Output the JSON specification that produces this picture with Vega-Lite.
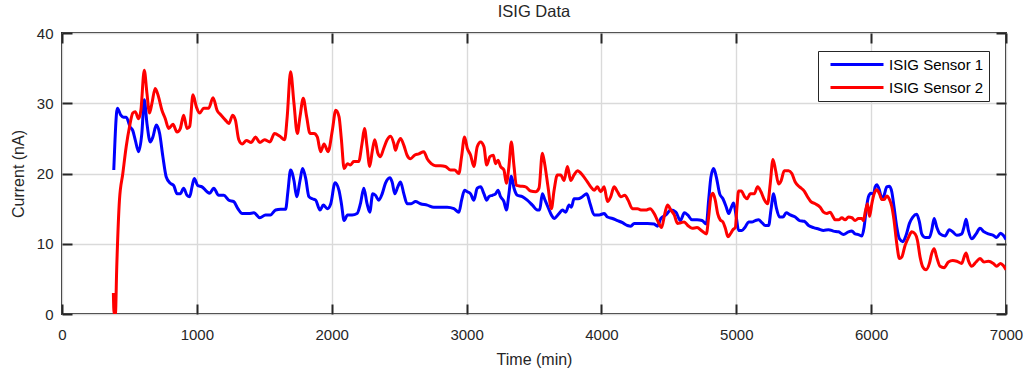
{
"$schema":"https://vega.github.io/schema/vega-lite/v6.json",
"width":944,"height":281,
"autosize":{"type":"none"},
"padding":{"left":62,"top":33,"right":21,"bottom":55},
"config":{"font":"Liberation Sans","view":{"stroke":"#262626","strokeWidth":2},
"axis":{"labelFont":"Liberation Sans","titleFont":"Liberation Sans","labelColor":"#262626","titleColor":"#262626","labelFontSize":15,"titleFontSize":16,"titleFontWeight":"normal","tickColor":"#262626","tickWidth":2,"tickSize":-10,"domain":false,"gridColor":"#dadada","gridWidth":1.4}},
"title":{"text":"ISIG Data","fontSize":16.5,"fontWeight":"normal","font":"Liberation Sans","color":"#262626","offset":6},
"data":{"values":[
{"t":384,"v":20.5,"s":"ISIG Sensor 1"},{"t":411,"v":29.3,"s":"ISIG Sensor 1"},{"t":436,"v":28.3,"s":"ISIG Sensor 1"},{"t":456,"v":28.0,"s":"ISIG Sensor 1"},{"t":476,"v":28.0,"s":"ISIG Sensor 1"},{"t":506,"v":26.6,"s":"ISIG Sensor 1"},{"t":525,"v":26.1,"s":"ISIG Sensor 1"},{"t":543,"v":24.8,"s":"ISIG Sensor 1"},{"t":568,"v":23.1,"s":"ISIG Sensor 1"},{"t":592,"v":25.7,"s":"ISIG Sensor 1"},{"t":610,"v":30.5,"s":"ISIG Sensor 1"},{"t":630,"v":27.1,"s":"ISIG Sensor 1"},{"t":654,"v":24.5,"s":"ISIG Sensor 1"},{"t":674,"v":25.2,"s":"ISIG Sensor 1"},{"t":699,"v":26.9,"s":"ISIG Sensor 1"},{"t":724,"v":25.7,"s":"ISIG Sensor 1"},{"t":748,"v":22.4,"s":"ISIG Sensor 1"},{"t":773,"v":19.5,"s":"ISIG Sensor 1"},{"t":803,"v":18.6,"s":"ISIG Sensor 1"},{"t":828,"v":18.3,"s":"ISIG Sensor 1"},{"t":853,"v":17.1,"s":"ISIG Sensor 1"},{"t":877,"v":17.1,"s":"ISIG Sensor 1"},{"t":902,"v":17.9,"s":"ISIG Sensor 1"},{"t":927,"v":16.9,"s":"ISIG Sensor 1"},{"t":947,"v":16.7,"s":"ISIG Sensor 1"},{"t":964,"v":18.1,"s":"ISIG Sensor 1"},{"t":981,"v":19.3,"s":"ISIG Sensor 1"},{"t":1006,"v":18.3,"s":"ISIG Sensor 1"},{"t":1038,"v":18.1,"s":"ISIG Sensor 1"},{"t":1076,"v":17.4,"s":"ISIG Sensor 1"},{"t":1095,"v":17.2,"s":"ISIG Sensor 1"},{"t":1125,"v":17.9,"s":"ISIG Sensor 1"},{"t":1162,"v":16.9,"s":"ISIG Sensor 1"},{"t":1200,"v":16.9,"s":"ISIG Sensor 1"},{"t":1237,"v":16.2,"s":"ISIG Sensor 1"},{"t":1274,"v":16.0,"s":"ISIG Sensor 1"},{"t":1304,"v":15.0,"s":"ISIG Sensor 1"},{"t":1336,"v":14.3,"s":"ISIG Sensor 1"},{"t":1385,"v":14.3,"s":"ISIG Sensor 1"},{"t":1423,"v":14.4,"s":"ISIG Sensor 1"},{"t":1467,"v":13.7,"s":"ISIG Sensor 1"},{"t":1509,"v":14.1,"s":"ISIG Sensor 1"},{"t":1546,"v":14.1,"s":"ISIG Sensor 1"},{"t":1584,"v":14.8,"s":"ISIG Sensor 1"},{"t":1621,"v":14.9,"s":"ISIG Sensor 1"},{"t":1658,"v":14.9,"s":"ISIG Sensor 1"},{"t":1675,"v":17.4,"s":"ISIG Sensor 1"},{"t":1695,"v":20.5,"s":"ISIG Sensor 1"},{"t":1720,"v":19.0,"s":"ISIG Sensor 1"},{"t":1740,"v":16.7,"s":"ISIG Sensor 1"},{"t":1765,"v":19.0,"s":"ISIG Sensor 1"},{"t":1784,"v":20.7,"s":"ISIG Sensor 1"},{"t":1807,"v":19.3,"s":"ISIG Sensor 1"},{"t":1831,"v":16.7,"s":"ISIG Sensor 1"},{"t":1856,"v":16.4,"s":"ISIG Sensor 1"},{"t":1881,"v":16.2,"s":"ISIG Sensor 1"},{"t":1913,"v":14.8,"s":"ISIG Sensor 1"},{"t":1938,"v":15.5,"s":"ISIG Sensor 1"},{"t":1968,"v":15.0,"s":"ISIG Sensor 1"},{"t":1993,"v":15.7,"s":"ISIG Sensor 1"},{"t":2025,"v":18.7,"s":"ISIG Sensor 1"},{"t":2054,"v":17.6,"s":"ISIG Sensor 1"},{"t":2072,"v":15.7,"s":"ISIG Sensor 1"},{"t":2092,"v":13.3,"s":"ISIG Sensor 1"},{"t":2117,"v":14.1,"s":"ISIG Sensor 1"},{"t":2151,"v":14.1,"s":"ISIG Sensor 1"},{"t":2188,"v":14.3,"s":"ISIG Sensor 1"},{"t":2213,"v":15.7,"s":"ISIG Sensor 1"},{"t":2238,"v":17.9,"s":"ISIG Sensor 1"},{"t":2262,"v":15.7,"s":"ISIG Sensor 1"},{"t":2282,"v":14.5,"s":"ISIG Sensor 1"},{"t":2304,"v":17.1,"s":"ISIG Sensor 1"},{"t":2324,"v":16.9,"s":"ISIG Sensor 1"},{"t":2349,"v":16.2,"s":"ISIG Sensor 1"},{"t":2374,"v":17.1,"s":"ISIG Sensor 1"},{"t":2398,"v":18.6,"s":"ISIG Sensor 1"},{"t":2431,"v":19.4,"s":"ISIG Sensor 1"},{"t":2448,"v":18.8,"s":"ISIG Sensor 1"},{"t":2468,"v":17.1,"s":"ISIG Sensor 1"},{"t":2490,"v":18.1,"s":"ISIG Sensor 1"},{"t":2510,"v":18.8,"s":"ISIG Sensor 1"},{"t":2535,"v":17.1,"s":"ISIG Sensor 1"},{"t":2559,"v":15.7,"s":"ISIG Sensor 1"},{"t":2589,"v":15.7,"s":"ISIG Sensor 1"},{"t":2621,"v":16.0,"s":"ISIG Sensor 1"},{"t":2658,"v":15.7,"s":"ISIG Sensor 1"},{"t":2708,"v":15.5,"s":"ISIG Sensor 1"},{"t":2757,"v":15.2,"s":"ISIG Sensor 1"},{"t":2807,"v":15.2,"s":"ISIG Sensor 1"},{"t":2856,"v":15.2,"s":"ISIG Sensor 1"},{"t":2906,"v":15.0,"s":"ISIG Sensor 1"},{"t":2943,"v":14.5,"s":"ISIG Sensor 1"},{"t":2963,"v":16.2,"s":"ISIG Sensor 1"},{"t":2985,"v":17.6,"s":"ISIG Sensor 1"},{"t":3005,"v":17.4,"s":"ISIG Sensor 1"},{"t":3030,"v":17.1,"s":"ISIG Sensor 1"},{"t":3054,"v":16.2,"s":"ISIG Sensor 1"},{"t":3079,"v":17.9,"s":"ISIG Sensor 1"},{"t":3104,"v":18.1,"s":"ISIG Sensor 1"},{"t":3129,"v":17.1,"s":"ISIG Sensor 1"},{"t":3149,"v":16.2,"s":"ISIG Sensor 1"},{"t":3166,"v":16.7,"s":"ISIG Sensor 1"},{"t":3191,"v":16.9,"s":"ISIG Sensor 1"},{"t":3215,"v":17.1,"s":"ISIG Sensor 1"},{"t":3233,"v":17.6,"s":"ISIG Sensor 1"},{"t":3252,"v":16.7,"s":"ISIG Sensor 1"},{"t":3277,"v":16.0,"s":"ISIG Sensor 1"},{"t":3295,"v":14.8,"s":"ISIG Sensor 1"},{"t":3314,"v":17.1,"s":"ISIG Sensor 1"},{"t":3332,"v":19.6,"s":"ISIG Sensor 1"},{"t":3352,"v":17.9,"s":"ISIG Sensor 1"},{"t":3376,"v":16.9,"s":"ISIG Sensor 1"},{"t":3413,"v":16.7,"s":"ISIG Sensor 1"},{"t":3450,"v":16.2,"s":"ISIG Sensor 1"},{"t":3488,"v":15.5,"s":"ISIG Sensor 1"},{"t":3525,"v":14.8,"s":"ISIG Sensor 1"},{"t":3542,"v":14.8,"s":"ISIG Sensor 1"},{"t":3562,"v":17.1,"s":"ISIG Sensor 1"},{"t":3582,"v":16.2,"s":"ISIG Sensor 1"},{"t":3604,"v":15.2,"s":"ISIG Sensor 1"},{"t":3629,"v":14.1,"s":"ISIG Sensor 1"},{"t":3649,"v":13.6,"s":"ISIG Sensor 1"},{"t":3686,"v":14.3,"s":"ISIG Sensor 1"},{"t":3710,"v":14.8,"s":"ISIG Sensor 1"},{"t":3735,"v":14.5,"s":"ISIG Sensor 1"},{"t":3760,"v":15.5,"s":"ISIG Sensor 1"},{"t":3777,"v":15.2,"s":"ISIG Sensor 1"},{"t":3797,"v":16.4,"s":"ISIG Sensor 1"},{"t":3827,"v":16.4,"s":"ISIG Sensor 1"},{"t":3859,"v":16.7,"s":"ISIG Sensor 1"},{"t":3891,"v":17.1,"s":"ISIG Sensor 1"},{"t":3916,"v":15.7,"s":"ISIG Sensor 1"},{"t":3946,"v":14.1,"s":"ISIG Sensor 1"},{"t":3983,"v":14.1,"s":"ISIG Sensor 1"},{"t":4020,"v":14.3,"s":"ISIG Sensor 1"},{"t":4045,"v":13.8,"s":"ISIG Sensor 1"},{"t":4082,"v":13.6,"s":"ISIG Sensor 1"},{"t":4119,"v":13.3,"s":"ISIG Sensor 1"},{"t":4156,"v":13.0,"s":"ISIG Sensor 1"},{"t":4193,"v":12.6,"s":"ISIG Sensor 1"},{"t":4218,"v":12.5,"s":"ISIG Sensor 1"},{"t":4243,"v":12.9,"s":"ISIG Sensor 1"},{"t":4292,"v":12.9,"s":"ISIG Sensor 1"},{"t":4342,"v":12.9,"s":"ISIG Sensor 1"},{"t":4391,"v":12.8,"s":"ISIG Sensor 1"},{"t":4416,"v":12.5,"s":"ISIG Sensor 1"},{"t":4441,"v":13.6,"s":"ISIG Sensor 1"},{"t":4478,"v":14.1,"s":"ISIG Sensor 1"},{"t":4515,"v":14.8,"s":"ISIG Sensor 1"},{"t":4552,"v":14.5,"s":"ISIG Sensor 1"},{"t":4585,"v":13.3,"s":"ISIG Sensor 1"},{"t":4615,"v":14.4,"s":"ISIG Sensor 1"},{"t":4640,"v":14.1,"s":"ISIG Sensor 1"},{"t":4672,"v":13.4,"s":"ISIG Sensor 1"},{"t":4709,"v":13.4,"s":"ISIG Sensor 1"},{"t":4746,"v":13.3,"s":"ISIG Sensor 1"},{"t":4778,"v":12.8,"s":"ISIG Sensor 1"},{"t":4795,"v":16.2,"s":"ISIG Sensor 1"},{"t":4812,"v":19.5,"s":"ISIG Sensor 1"},{"t":4832,"v":20.7,"s":"ISIG Sensor 1"},{"t":4852,"v":19.5,"s":"ISIG Sensor 1"},{"t":4877,"v":17.1,"s":"ISIG Sensor 1"},{"t":4901,"v":16.4,"s":"ISIG Sensor 1"},{"t":4926,"v":15.2,"s":"ISIG Sensor 1"},{"t":4943,"v":14.3,"s":"ISIG Sensor 1"},{"t":4960,"v":15.0,"s":"ISIG Sensor 1"},{"t":4980,"v":15.8,"s":"ISIG Sensor 1"},{"t":5000,"v":13.8,"s":"ISIG Sensor 1"},{"t":5017,"v":11.9,"s":"ISIG Sensor 1"},{"t":5042,"v":11.9,"s":"ISIG Sensor 1"},{"t":5067,"v":12.4,"s":"ISIG Sensor 1"},{"t":5091,"v":13.1,"s":"ISIG Sensor 1"},{"t":5116,"v":13.1,"s":"ISIG Sensor 1"},{"t":5141,"v":13.3,"s":"ISIG Sensor 1"},{"t":5165,"v":13.4,"s":"ISIG Sensor 1"},{"t":5190,"v":13.0,"s":"ISIG Sensor 1"},{"t":5215,"v":12.6,"s":"ISIG Sensor 1"},{"t":5240,"v":12.6,"s":"ISIG Sensor 1"},{"t":5257,"v":14.8,"s":"ISIG Sensor 1"},{"t":5277,"v":17.1,"s":"ISIG Sensor 1"},{"t":5296,"v":15.2,"s":"ISIG Sensor 1"},{"t":5321,"v":13.8,"s":"ISIG Sensor 1"},{"t":5346,"v":13.8,"s":"ISIG Sensor 1"},{"t":5370,"v":14.4,"s":"ISIG Sensor 1"},{"t":5400,"v":14.1,"s":"ISIG Sensor 1"},{"t":5437,"v":13.8,"s":"ISIG Sensor 1"},{"t":5469,"v":13.3,"s":"ISIG Sensor 1"},{"t":5504,"v":13.2,"s":"ISIG Sensor 1"},{"t":5536,"v":12.6,"s":"ISIG Sensor 1"},{"t":5573,"v":12.3,"s":"ISIG Sensor 1"},{"t":5610,"v":12.1,"s":"ISIG Sensor 1"},{"t":5647,"v":11.9,"s":"ISIG Sensor 1"},{"t":5684,"v":12.0,"s":"ISIG Sensor 1"},{"t":5721,"v":11.8,"s":"ISIG Sensor 1"},{"t":5758,"v":11.7,"s":"ISIG Sensor 1"},{"t":5795,"v":11.3,"s":"ISIG Sensor 1"},{"t":5832,"v":11.7,"s":"ISIG Sensor 1"},{"t":5857,"v":11.8,"s":"ISIG Sensor 1"},{"t":5881,"v":11.4,"s":"ISIG Sensor 1"},{"t":5906,"v":11.3,"s":"ISIG Sensor 1"},{"t":5931,"v":11.1,"s":"ISIG Sensor 1"},{"t":5948,"v":12.4,"s":"ISIG Sensor 1"},{"t":5963,"v":14.8,"s":"ISIG Sensor 1"},{"t":5980,"v":16.7,"s":"ISIG Sensor 1"},{"t":5998,"v":17.2,"s":"ISIG Sensor 1"},{"t":6017,"v":17.1,"s":"ISIG Sensor 1"},{"t":6030,"v":18.1,"s":"ISIG Sensor 1"},{"t":6042,"v":18.4,"s":"ISIG Sensor 1"},{"t":6062,"v":17.6,"s":"ISIG Sensor 1"},{"t":6079,"v":16.4,"s":"ISIG Sensor 1"},{"t":6096,"v":16.9,"s":"ISIG Sensor 1"},{"t":6116,"v":18.1,"s":"ISIG Sensor 1"},{"t":6136,"v":18.2,"s":"ISIG Sensor 1"},{"t":6153,"v":17.4,"s":"ISIG Sensor 1"},{"t":6170,"v":15.2,"s":"ISIG Sensor 1"},{"t":6190,"v":12.4,"s":"ISIG Sensor 1"},{"t":6210,"v":10.7,"s":"ISIG Sensor 1"},{"t":6235,"v":10.3,"s":"ISIG Sensor 1"},{"t":6259,"v":11.2,"s":"ISIG Sensor 1"},{"t":6284,"v":12.9,"s":"ISIG Sensor 1"},{"t":6309,"v":13.8,"s":"ISIG Sensor 1"},{"t":6338,"v":14.2,"s":"ISIG Sensor 1"},{"t":6358,"v":13.1,"s":"ISIG Sensor 1"},{"t":6375,"v":11.4,"s":"ISIG Sensor 1"},{"t":6400,"v":10.9,"s":"ISIG Sensor 1"},{"t":6432,"v":10.9,"s":"ISIG Sensor 1"},{"t":6449,"v":11.9,"s":"ISIG Sensor 1"},{"t":6467,"v":13.6,"s":"ISIG Sensor 1"},{"t":6486,"v":12.4,"s":"ISIG Sensor 1"},{"t":6511,"v":11.4,"s":"ISIG Sensor 1"},{"t":6548,"v":11.1,"s":"ISIG Sensor 1"},{"t":6580,"v":12.0,"s":"ISIG Sensor 1"},{"t":6605,"v":11.7,"s":"ISIG Sensor 1"},{"t":6635,"v":11.2,"s":"ISIG Sensor 1"},{"t":6672,"v":11.4,"s":"ISIG Sensor 1"},{"t":6689,"v":12.4,"s":"ISIG Sensor 1"},{"t":6704,"v":13.5,"s":"ISIG Sensor 1"},{"t":6721,"v":11.9,"s":"ISIG Sensor 1"},{"t":6746,"v":10.7,"s":"ISIG Sensor 1"},{"t":6778,"v":11.4,"s":"ISIG Sensor 1"},{"t":6807,"v":12.2,"s":"ISIG Sensor 1"},{"t":6837,"v":11.7,"s":"ISIG Sensor 1"},{"t":6869,"v":11.4,"s":"ISIG Sensor 1"},{"t":6906,"v":11.2,"s":"ISIG Sensor 1"},{"t":6931,"v":10.9,"s":"ISIG Sensor 1"},{"t":6960,"v":11.5,"s":"ISIG Sensor 1"},{"t":6980,"v":11.2,"s":"ISIG Sensor 1"},{"t":7000,"v":10.6,"s":"ISIG Sensor 1"},
{"t":381,"v":3.0,"s":"ISIG Sensor 2"},{"t":386,"v":0,"s":"ISIG Sensor 2"},{"t":396,"v":0,"s":"ISIG Sensor 2"},{"t":406,"v":6.7,"s":"ISIG Sensor 2"},{"t":426,"v":16.2,"s":"ISIG Sensor 2"},{"t":451,"v":20.0,"s":"ISIG Sensor 2"},{"t":476,"v":23.8,"s":"ISIG Sensor 2"},{"t":501,"v":26.7,"s":"ISIG Sensor 2"},{"t":525,"v":28.6,"s":"ISIG Sensor 2"},{"t":543,"v":28.8,"s":"ISIG Sensor 2"},{"t":568,"v":27.8,"s":"ISIG Sensor 2"},{"t":585,"v":29.0,"s":"ISIG Sensor 2"},{"t":610,"v":34.7,"s":"ISIG Sensor 2"},{"t":630,"v":31.4,"s":"ISIG Sensor 2"},{"t":649,"v":28.6,"s":"ISIG Sensor 2"},{"t":667,"v":30.0,"s":"ISIG Sensor 2"},{"t":691,"v":32.1,"s":"ISIG Sensor 2"},{"t":716,"v":30.9,"s":"ISIG Sensor 2"},{"t":741,"v":29.0,"s":"ISIG Sensor 2"},{"t":766,"v":27.8,"s":"ISIG Sensor 2"},{"t":791,"v":26.4,"s":"ISIG Sensor 2"},{"t":823,"v":27.0,"s":"ISIG Sensor 2"},{"t":853,"v":25.9,"s":"ISIG Sensor 2"},{"t":877,"v":26.4,"s":"ISIG Sensor 2"},{"t":902,"v":28.3,"s":"ISIG Sensor 2"},{"t":927,"v":26.4,"s":"ISIG Sensor 2"},{"t":947,"v":26.7,"s":"ISIG Sensor 2"},{"t":971,"v":31.2,"s":"ISIG Sensor 2"},{"t":996,"v":29.5,"s":"ISIG Sensor 2"},{"t":1021,"v":28.6,"s":"ISIG Sensor 2"},{"t":1051,"v":29.3,"s":"ISIG Sensor 2"},{"t":1088,"v":29.3,"s":"ISIG Sensor 2"},{"t":1120,"v":30.8,"s":"ISIG Sensor 2"},{"t":1150,"v":29.0,"s":"ISIG Sensor 2"},{"t":1180,"v":28.3,"s":"ISIG Sensor 2"},{"t":1212,"v":27.6,"s":"ISIG Sensor 2"},{"t":1237,"v":27.1,"s":"ISIG Sensor 2"},{"t":1266,"v":28.3,"s":"ISIG Sensor 2"},{"t":1286,"v":27.6,"s":"ISIG Sensor 2"},{"t":1311,"v":24.8,"s":"ISIG Sensor 2"},{"t":1336,"v":24.2,"s":"ISIG Sensor 2"},{"t":1368,"v":24.7,"s":"ISIG Sensor 2"},{"t":1403,"v":24.4,"s":"ISIG Sensor 2"},{"t":1435,"v":25.2,"s":"ISIG Sensor 2"},{"t":1467,"v":24.4,"s":"ISIG Sensor 2"},{"t":1502,"v":24.8,"s":"ISIG Sensor 2"},{"t":1541,"v":24.5,"s":"ISIG Sensor 2"},{"t":1576,"v":25.7,"s":"ISIG Sensor 2"},{"t":1616,"v":25.3,"s":"ISIG Sensor 2"},{"t":1651,"v":24.8,"s":"ISIG Sensor 2"},{"t":1670,"v":28.1,"s":"ISIG Sensor 2"},{"t":1695,"v":34.5,"s":"ISIG Sensor 2"},{"t":1720,"v":30.0,"s":"ISIG Sensor 2"},{"t":1745,"v":25.7,"s":"ISIG Sensor 2"},{"t":1765,"v":28.1,"s":"ISIG Sensor 2"},{"t":1789,"v":30.7,"s":"ISIG Sensor 2"},{"t":1814,"v":28.1,"s":"ISIG Sensor 2"},{"t":1839,"v":25.7,"s":"ISIG Sensor 2"},{"t":1869,"v":25.7,"s":"ISIG Sensor 2"},{"t":1893,"v":25.2,"s":"ISIG Sensor 2"},{"t":1918,"v":23.1,"s":"ISIG Sensor 2"},{"t":1943,"v":24.2,"s":"ISIG Sensor 2"},{"t":1973,"v":23.1,"s":"ISIG Sensor 2"},{"t":2005,"v":26.2,"s":"ISIG Sensor 2"},{"t":2030,"v":29.0,"s":"ISIG Sensor 2"},{"t":2054,"v":28.1,"s":"ISIG Sensor 2"},{"t":2072,"v":24.8,"s":"ISIG Sensor 2"},{"t":2092,"v":20.7,"s":"ISIG Sensor 2"},{"t":2117,"v":21.4,"s":"ISIG Sensor 2"},{"t":2139,"v":21.2,"s":"ISIG Sensor 2"},{"t":2163,"v":21.7,"s":"ISIG Sensor 2"},{"t":2200,"v":21.7,"s":"ISIG Sensor 2"},{"t":2225,"v":24.3,"s":"ISIG Sensor 2"},{"t":2243,"v":26.4,"s":"ISIG Sensor 2"},{"t":2262,"v":23.8,"s":"ISIG Sensor 2"},{"t":2282,"v":21.0,"s":"ISIG Sensor 2"},{"t":2300,"v":23.1,"s":"ISIG Sensor 2"},{"t":2319,"v":24.8,"s":"ISIG Sensor 2"},{"t":2342,"v":22.9,"s":"ISIG Sensor 2"},{"t":2361,"v":22.4,"s":"ISIG Sensor 2"},{"t":2386,"v":23.6,"s":"ISIG Sensor 2"},{"t":2411,"v":24.8,"s":"ISIG Sensor 2"},{"t":2436,"v":25.3,"s":"ISIG Sensor 2"},{"t":2460,"v":24.3,"s":"ISIG Sensor 2"},{"t":2473,"v":23.3,"s":"ISIG Sensor 2"},{"t":2490,"v":24.3,"s":"ISIG Sensor 2"},{"t":2510,"v":25.0,"s":"ISIG Sensor 2"},{"t":2535,"v":24.0,"s":"ISIG Sensor 2"},{"t":2559,"v":22.6,"s":"ISIG Sensor 2"},{"t":2584,"v":22.1,"s":"ISIG Sensor 2"},{"t":2614,"v":22.6,"s":"ISIG Sensor 2"},{"t":2646,"v":22.8,"s":"ISIG Sensor 2"},{"t":2683,"v":23.1,"s":"ISIG Sensor 2"},{"t":2708,"v":22.1,"s":"ISIG Sensor 2"},{"t":2738,"v":21.4,"s":"ISIG Sensor 2"},{"t":2770,"v":21.1,"s":"ISIG Sensor 2"},{"t":2807,"v":21.1,"s":"ISIG Sensor 2"},{"t":2844,"v":21.0,"s":"ISIG Sensor 2"},{"t":2881,"v":20.5,"s":"ISIG Sensor 2"},{"t":2911,"v":20.5,"s":"ISIG Sensor 2"},{"t":2943,"v":20.0,"s":"ISIG Sensor 2"},{"t":2963,"v":22.4,"s":"ISIG Sensor 2"},{"t":2985,"v":25.2,"s":"ISIG Sensor 2"},{"t":3005,"v":23.6,"s":"ISIG Sensor 2"},{"t":3030,"v":22.6,"s":"ISIG Sensor 2"},{"t":3054,"v":21.0,"s":"ISIG Sensor 2"},{"t":3079,"v":23.8,"s":"ISIG Sensor 2"},{"t":3104,"v":24.5,"s":"ISIG Sensor 2"},{"t":3129,"v":23.8,"s":"ISIG Sensor 2"},{"t":3149,"v":21.2,"s":"ISIG Sensor 2"},{"t":3173,"v":22.4,"s":"ISIG Sensor 2"},{"t":3198,"v":22.6,"s":"ISIG Sensor 2"},{"t":3215,"v":21.4,"s":"ISIG Sensor 2"},{"t":3233,"v":21.9,"s":"ISIG Sensor 2"},{"t":3252,"v":21.0,"s":"ISIG Sensor 2"},{"t":3277,"v":20.5,"s":"ISIG Sensor 2"},{"t":3295,"v":18.6,"s":"ISIG Sensor 2"},{"t":3314,"v":21.0,"s":"ISIG Sensor 2"},{"t":3332,"v":24.5,"s":"ISIG Sensor 2"},{"t":3352,"v":21.0,"s":"ISIG Sensor 2"},{"t":3369,"v":18.3,"s":"ISIG Sensor 2"},{"t":3401,"v":18.2,"s":"ISIG Sensor 2"},{"t":3438,"v":18.1,"s":"ISIG Sensor 2"},{"t":3475,"v":17.5,"s":"ISIG Sensor 2"},{"t":3512,"v":17.4,"s":"ISIG Sensor 2"},{"t":3537,"v":17.9,"s":"ISIG Sensor 2"},{"t":3562,"v":22.9,"s":"ISIG Sensor 2"},{"t":3579,"v":21.4,"s":"ISIG Sensor 2"},{"t":3604,"v":18.1,"s":"ISIG Sensor 2"},{"t":3629,"v":15.0,"s":"ISIG Sensor 2"},{"t":3649,"v":17.6,"s":"ISIG Sensor 2"},{"t":3673,"v":19.8,"s":"ISIG Sensor 2"},{"t":3698,"v":19.8,"s":"ISIG Sensor 2"},{"t":3723,"v":19.0,"s":"ISIG Sensor 2"},{"t":3748,"v":21.0,"s":"ISIG Sensor 2"},{"t":3772,"v":19.0,"s":"ISIG Sensor 2"},{"t":3797,"v":19.8,"s":"ISIG Sensor 2"},{"t":3822,"v":20.4,"s":"ISIG Sensor 2"},{"t":3859,"v":19.8,"s":"ISIG Sensor 2"},{"t":3896,"v":18.8,"s":"ISIG Sensor 2"},{"t":3921,"v":18.1,"s":"ISIG Sensor 2"},{"t":3946,"v":17.6,"s":"ISIG Sensor 2"},{"t":3970,"v":18.1,"s":"ISIG Sensor 2"},{"t":3995,"v":17.4,"s":"ISIG Sensor 2"},{"t":4020,"v":18.1,"s":"ISIG Sensor 2"},{"t":4045,"v":16.0,"s":"ISIG Sensor 2"},{"t":4069,"v":16.7,"s":"ISIG Sensor 2"},{"t":4094,"v":18.1,"s":"ISIG Sensor 2"},{"t":4119,"v":17.4,"s":"ISIG Sensor 2"},{"t":4144,"v":16.7,"s":"ISIG Sensor 2"},{"t":4173,"v":16.9,"s":"ISIG Sensor 2"},{"t":4198,"v":16.2,"s":"ISIG Sensor 2"},{"t":4230,"v":15.0,"s":"ISIG Sensor 2"},{"t":4267,"v":15.0,"s":"ISIG Sensor 2"},{"t":4292,"v":14.8,"s":"ISIG Sensor 2"},{"t":4329,"v":14.8,"s":"ISIG Sensor 2"},{"t":4361,"v":15.0,"s":"ISIG Sensor 2"},{"t":4391,"v":14.3,"s":"ISIG Sensor 2"},{"t":4416,"v":13.3,"s":"ISIG Sensor 2"},{"t":4446,"v":12.3,"s":"ISIG Sensor 2"},{"t":4470,"v":14.3,"s":"ISIG Sensor 2"},{"t":4490,"v":15.5,"s":"ISIG Sensor 2"},{"t":4515,"v":14.8,"s":"ISIG Sensor 2"},{"t":4540,"v":14.1,"s":"ISIG Sensor 2"},{"t":4564,"v":12.9,"s":"ISIG Sensor 2"},{"t":4589,"v":13.0,"s":"ISIG Sensor 2"},{"t":4614,"v":13.1,"s":"ISIG Sensor 2"},{"t":4640,"v":12.6,"s":"ISIG Sensor 2"},{"t":4672,"v":12.2,"s":"ISIG Sensor 2"},{"t":4709,"v":12.3,"s":"ISIG Sensor 2"},{"t":4746,"v":11.8,"s":"ISIG Sensor 2"},{"t":4778,"v":11.4,"s":"ISIG Sensor 2"},{"t":4795,"v":13.8,"s":"ISIG Sensor 2"},{"t":4812,"v":16.7,"s":"ISIG Sensor 2"},{"t":4827,"v":17.2,"s":"ISIG Sensor 2"},{"t":4844,"v":16.2,"s":"ISIG Sensor 2"},{"t":4862,"v":14.3,"s":"ISIG Sensor 2"},{"t":4881,"v":13.4,"s":"ISIG Sensor 2"},{"t":4901,"v":13.1,"s":"ISIG Sensor 2"},{"t":4919,"v":12.2,"s":"ISIG Sensor 2"},{"t":4938,"v":11.0,"s":"ISIG Sensor 2"},{"t":4956,"v":11.4,"s":"ISIG Sensor 2"},{"t":4975,"v":12.0,"s":"ISIG Sensor 2"},{"t":4993,"v":12.3,"s":"ISIG Sensor 2"},{"t":5005,"v":15.2,"s":"ISIG Sensor 2"},{"t":5017,"v":17.5,"s":"ISIG Sensor 2"},{"t":5037,"v":17.5,"s":"ISIG Sensor 2"},{"t":5062,"v":16.7,"s":"ISIG Sensor 2"},{"t":5079,"v":16.4,"s":"ISIG Sensor 2"},{"t":5104,"v":17.1,"s":"ISIG Sensor 2"},{"t":5133,"v":17.1,"s":"ISIG Sensor 2"},{"t":5158,"v":18.1,"s":"ISIG Sensor 2"},{"t":5183,"v":17.4,"s":"ISIG Sensor 2"},{"t":5207,"v":16.3,"s":"ISIG Sensor 2"},{"t":5232,"v":15.7,"s":"ISIG Sensor 2"},{"t":5252,"v":18.6,"s":"ISIG Sensor 2"},{"t":5272,"v":22.0,"s":"ISIG Sensor 2"},{"t":5291,"v":20.5,"s":"ISIG Sensor 2"},{"t":5314,"v":18.5,"s":"ISIG Sensor 2"},{"t":5333,"v":19.0,"s":"ISIG Sensor 2"},{"t":5356,"v":20.4,"s":"ISIG Sensor 2"},{"t":5388,"v":20.4,"s":"ISIG Sensor 2"},{"t":5412,"v":20.0,"s":"ISIG Sensor 2"},{"t":5437,"v":18.8,"s":"ISIG Sensor 2"},{"t":5469,"v":18.1,"s":"ISIG Sensor 2"},{"t":5504,"v":17.5,"s":"ISIG Sensor 2"},{"t":5528,"v":16.7,"s":"ISIG Sensor 2"},{"t":5553,"v":16.0,"s":"ISIG Sensor 2"},{"t":5585,"v":15.7,"s":"ISIG Sensor 2"},{"t":5622,"v":15.2,"s":"ISIG Sensor 2"},{"t":5647,"v":14.5,"s":"ISIG Sensor 2"},{"t":5672,"v":14.3,"s":"ISIG Sensor 2"},{"t":5696,"v":14.5,"s":"ISIG Sensor 2"},{"t":5716,"v":13.9,"s":"ISIG Sensor 2"},{"t":5733,"v":13.4,"s":"ISIG Sensor 2"},{"t":5758,"v":13.4,"s":"ISIG Sensor 2"},{"t":5783,"v":13.7,"s":"ISIG Sensor 2"},{"t":5807,"v":13.4,"s":"ISIG Sensor 2"},{"t":5832,"v":13.8,"s":"ISIG Sensor 2"},{"t":5857,"v":13.7,"s":"ISIG Sensor 2"},{"t":5881,"v":13.3,"s":"ISIG Sensor 2"},{"t":5906,"v":13.6,"s":"ISIG Sensor 2"},{"t":5931,"v":13.6,"s":"ISIG Sensor 2"},{"t":5943,"v":13.3,"s":"ISIG Sensor 2"},{"t":5956,"v":14.5,"s":"ISIG Sensor 2"},{"t":5973,"v":15.7,"s":"ISIG Sensor 2"},{"t":5988,"v":13.9,"s":"ISIG Sensor 2"},{"t":6005,"v":15.7,"s":"ISIG Sensor 2"},{"t":6022,"v":17.1,"s":"ISIG Sensor 2"},{"t":6042,"v":17.7,"s":"ISIG Sensor 2"},{"t":6062,"v":17.1,"s":"ISIG Sensor 2"},{"t":6079,"v":16.3,"s":"ISIG Sensor 2"},{"t":6096,"v":16.3,"s":"ISIG Sensor 2"},{"t":6116,"v":16.8,"s":"ISIG Sensor 2"},{"t":6136,"v":16.3,"s":"ISIG Sensor 2"},{"t":6153,"v":15.3,"s":"ISIG Sensor 2"},{"t":6170,"v":13.3,"s":"ISIG Sensor 2"},{"t":6190,"v":10.0,"s":"ISIG Sensor 2"},{"t":6210,"v":7.9,"s":"ISIG Sensor 2"},{"t":6227,"v":8.1,"s":"ISIG Sensor 2"},{"t":6252,"v":9.8,"s":"ISIG Sensor 2"},{"t":6277,"v":10.9,"s":"ISIG Sensor 2"},{"t":6301,"v":11.7,"s":"ISIG Sensor 2"},{"t":6326,"v":11.4,"s":"ISIG Sensor 2"},{"t":6343,"v":10.5,"s":"ISIG Sensor 2"},{"t":6363,"v":8.1,"s":"ISIG Sensor 2"},{"t":6383,"v":6.7,"s":"ISIG Sensor 2"},{"t":6407,"v":6.3,"s":"ISIG Sensor 2"},{"t":6432,"v":7.2,"s":"ISIG Sensor 2"},{"t":6449,"v":8.6,"s":"ISIG Sensor 2"},{"t":6467,"v":9.3,"s":"ISIG Sensor 2"},{"t":6486,"v":8.1,"s":"ISIG Sensor 2"},{"t":6511,"v":6.8,"s":"ISIG Sensor 2"},{"t":6541,"v":6.6,"s":"ISIG Sensor 2"},{"t":6573,"v":7.4,"s":"ISIG Sensor 2"},{"t":6605,"v":7.6,"s":"ISIG Sensor 2"},{"t":6635,"v":7.5,"s":"ISIG Sensor 2"},{"t":6672,"v":7.2,"s":"ISIG Sensor 2"},{"t":6689,"v":8.1,"s":"ISIG Sensor 2"},{"t":6704,"v":8.7,"s":"ISIG Sensor 2"},{"t":6721,"v":7.6,"s":"ISIG Sensor 2"},{"t":6746,"v":6.8,"s":"ISIG Sensor 2"},{"t":6778,"v":7.4,"s":"ISIG Sensor 2"},{"t":6807,"v":7.9,"s":"ISIG Sensor 2"},{"t":6837,"v":7.4,"s":"ISIG Sensor 2"},{"t":6869,"v":7.5,"s":"ISIG Sensor 2"},{"t":6906,"v":7.2,"s":"ISIG Sensor 2"},{"t":6931,"v":6.8,"s":"ISIG Sensor 2"},{"t":6960,"v":7.2,"s":"ISIG Sensor 2"},{"t":6980,"v":6.9,"s":"ISIG Sensor 2"},{"t":7000,"v":6.3,"s":"ISIG Sensor 2"}
]},
"layer":[
{"mark":{"type":"line","strokeWidth":3,"interpolate":"monotone","clip":true},
"encoding":{
"x":{"field":"t","type":"quantitative","scale":{"domain":[0,7000],"nice":false},"axis":{"orient":"bottom","title":"Time (min)","format":"d","values":[0,1000,2000,3000,4000,5000,6000,7000],"labelPadding":23,"titlePadding":9,"grid":true,"labelFlush":false}},
"y":{"field":"v","type":"quantitative","scale":{"domain":[0,40],"nice":false},"axis":{"orient":"left","title":"Current (nA)","format":"d","values":[0,10,20,30,40],"labelPadding":19,"titlePadding":10,"grid":true}},
"color":{"field":"s","type":"nominal","scale":{"domain":["ISIG Sensor 1","ISIG Sensor 2"],"range":["#0000ff","#ff0000"]},
"legend":{"orient":"none","legendX":756,"legendY":18,"title":null,"symbolType":"stroke","symbolSize":2809,"symbolStrokeWidth":3,"labelFontSize":15,"labelFont":"Liberation Sans","labelColor":"#000000","strokeColor":"#262626","fillColor":"#ffffff","padding":5,"symbolOffset":6,"clipHeight":17,"rowPadding":6,"labelOffset":4}}}},
{"mark":{"type":"line","opacity":0},
"encoding":{
"x":{"field":"t","type":"quantitative","scale":{"domain":[0,7000],"nice":false},"axis":{"orient":"top","title":null,"labels":false,"grid":false,"values":[0,1000,2000,3000,4000,5000,6000,7000]}},
"y":{"field":"v","type":"quantitative","scale":{"domain":[0,40],"nice":false},"axis":{"orient":"right","title":null,"labels":false,"grid":false,"values":[0,10,20,30,40]}}}}
],
"resolve":{"axis":{"x":"independent","y":"independent"}}
}
